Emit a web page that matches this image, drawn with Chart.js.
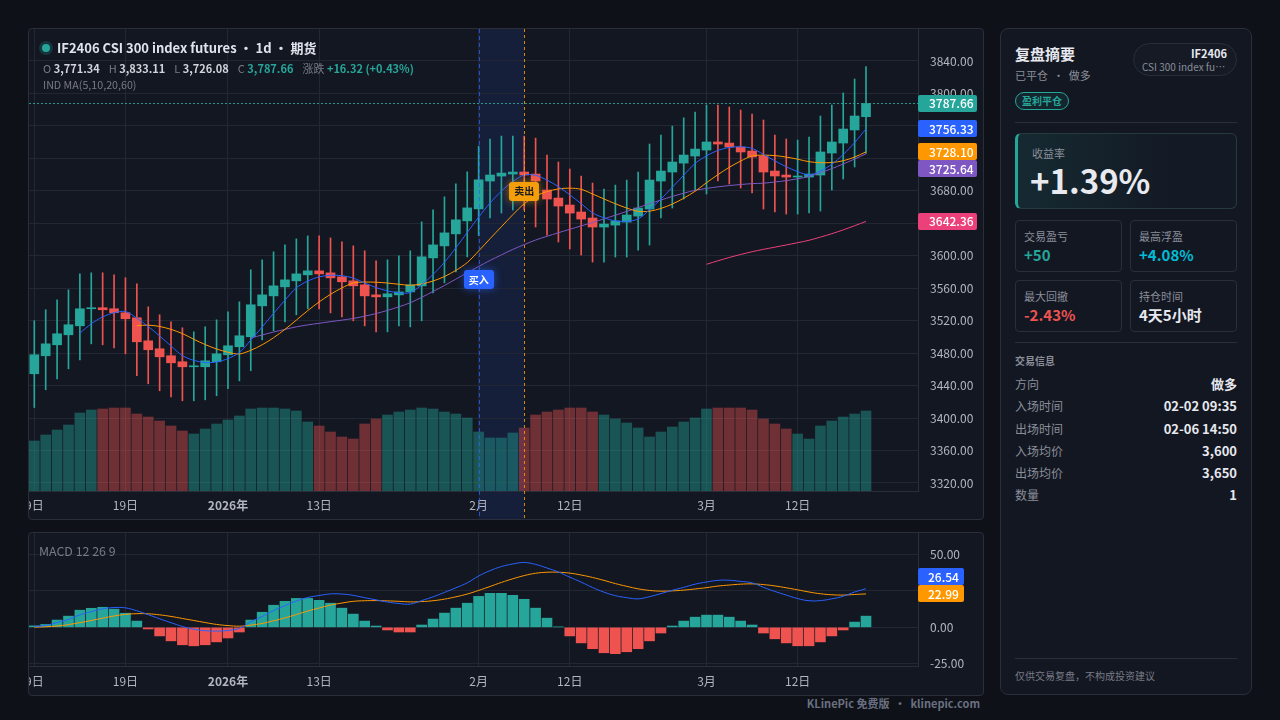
<!DOCTYPE html>
<html lang="zh-CN">
<head>
<meta charset="utf-8">
<title>IF2406 复盘</title>
<script src="https://cdn.jsdelivr.net/npm/chart.js@4.4.1/dist/chart.umd.min.js"></script>
<style>
  * { box-sizing: border-box; margin: 0; padding: 0; }
  body { width: 1280px; height: 720px; background: #0e1118; position: relative; overflow: hidden;
         font-family: 'Noto Sans CJK SC', 'Noto Sans', sans-serif; color: #d1d4dc; }
  .panel { position: absolute; background: #131722; border: 1px solid #2a2e39; border-radius: 4px; overflow: hidden; }
  #mainPanel { left: 28px; top: 28px; width: 956px; height: 492px; }
  #macdPanel { left: 28px; top: 532px; width: 956px; height: 164px; }
  canvas { position: absolute; left: 0; top: 0; }
  .abs { position: absolute; white-space: nowrap; }
  .dot { left: 13px; top: 15px; width: 8px; height: 8px; border-radius: 50%; background: #26a69a;
         box-shadow: 0 0 0 3px rgba(38,166,154,0.22); }
  .title { left: 28px; top: 10px; line-height: 18px; font-size: 13px; font-weight: 700; color: #e0e3eb; }
  .ohlc { left: 14px; top: 31px; line-height: 16px; font-size: 11px; color: #787b86; }
  .ohlc b { color: #d1d4dc; font-weight: 700; margin-right: 9px; }
  .ohlc .up { color: #26a69a; }
  .ind { left: 14px; top: 49px; line-height: 14px; font-size: 10.7px; color: #787b86; }
  .macdTitle { left: 10px; top: 10px; line-height: 16px; font-size: 12.4px; color: #787b86; }
  .footer { right: 300px; top: 695px; line-height: 16px; font-size: 11px; font-weight: 700; color: #6b7080; }

  #side { left: 1000px; top: 28px; width: 252px; height: 667px; border-radius: 8px; }
  .s-title { left: 14px; top: 15px; line-height: 20px; font-size: 15px; font-weight: 700; color: #e6e8ee; }
  .s-sub { left: 14px; top: 38px; line-height: 16px; font-size: 11px; color: #8a8e99; }
  .s-badge { left: 14px; top: 63px; width: 54px; height: 18px; border: 1px solid #26a69a; border-radius: 9px;
             background: rgba(38,166,154,0.10); color: #26a69a; font-size: 10px; font-weight: 700;
             line-height: 16px; text-align: center; }
  .s-sym { left: 132px; top: 14px; width: 104px; height: 33px; border: 1px solid #2a2e39; border-radius: 17px;
           background: #151a25; text-align: right; padding-right: 9px; }
  .sym-code { font-size: 11px; font-weight: 700; color: #e6e8ee; line-height: 13px; margin-top: 3px; }
  .sym-name { font-size: 10px; color: #8a8e99; line-height: 13px; width: 86px; margin-left: 8px;
              overflow: hidden; text-overflow: ellipsis; white-space: nowrap; }
  .s-div { left: 14px; width: 222px; height: 1px; background: #2a2e39; }
  .s-yield { left: 14px; top: 104px; width: 222px; height: 76px; border: 1px solid #253a3d; border-left: 3px solid #26a69a;
             border-radius: 6px; background: linear-gradient(90deg, rgba(38,166,154,0.13), rgba(38,166,154,0.02) 70%); }
  .y-lab { left: 14px; top: 11px; line-height: 16px; font-size: 11px; color: #8a8e99; }
  .y-val { left: 12px; top: 27px; line-height: 38px; font-size: 33px; font-weight: 700; color: #e8eaef; }
  .s-card { width: 107px; height: 52px; border: 1px solid #2a2e39; border-radius: 4px; }
  .c-lab { left: 8px; top: 7px; line-height: 16px; font-size: 11px; color: #8a8e99; }
  .c-val { left: 8px; top: 24px; line-height: 20px; font-size: 15px; font-weight: 700; color: #e6e8ee; }
  .s-sec { left: 14px; top: 325px; line-height: 14px; font-size: 10px; font-weight: 700; color: #8a8e99; }
  .row { left: 14px; width: 222px; height: 18px; line-height: 18px; }
  .row span { position: absolute; left: 0; font-size: 12px; color: #8a8e99; }
  .row b { position: absolute; right: 0; font-size: 13px; font-weight: 700; color: #e6e8ee; }
  .s-note { left: 14px; top: 640px; line-height: 14px; font-size: 10px; color: #787b86; }
</style>
</head>
<body>

<div id="mainPanel" class="panel">
  <canvas id="mainChart" width="954" height="490"></canvas>
  <div class="abs dot"></div>
  <div class="abs title">IF2406 CSI 300 index futures · 1d · 期货</div>
  <div class="abs ohlc">O <b>3,771.34</b>H <b>3,833.11</b>L <b>3,726.08</b>C <b class="up">3,787.66</b>涨跌 <b class="up">+16.32 (+0.43%)</b></div>
  <div class="abs ind">IND MA(5,10,20,60)</div>
</div>

<div id="macdPanel" class="panel">
  <canvas id="macdChart" width="954" height="162"></canvas>
  <div class="abs macdTitle">MACD 12 26 9</div>
</div>

<div class="abs footer">KLinePic 免费版 &nbsp;·&nbsp; klinepic.com</div>

<div id="side" class="panel">
  <div class="abs s-title">复盘摘要</div>
  <div class="abs s-sub">已平仓 &nbsp;·&nbsp; 做多</div>
  <div class="abs s-badge">盈利平仓</div>
  <div class="abs s-sym"><div class="sym-code">IF2406</div><div class="sym-name">CSI 300 index futures</div></div>
  <div class="abs s-div" style="top:93px"></div>
  <div class="abs s-yield"><div class="abs y-lab">收益率</div><div class="abs y-val">+1.39%</div></div>
  <div class="abs s-card" style="left:14px;top:191px"><div class="abs c-lab">交易盈亏</div><div class="abs c-val" style="color:#26a69a">+50</div></div>
  <div class="abs s-card" style="left:129px;top:191px"><div class="abs c-lab">最高浮盈</div><div class="abs c-val" style="color:#00bcd4">+4.08%</div></div>
  <div class="abs s-card" style="left:14px;top:251px"><div class="abs c-lab">最大回撤</div><div class="abs c-val" style="color:#ef5350">-2.43%</div></div>
  <div class="abs s-card" style="left:129px;top:251px"><div class="abs c-lab">持仓时间</div><div class="abs c-val">4天5小时</div></div>
  <div class="abs s-div" style="top:313px"></div>
  <div class="abs s-sec">交易信息</div>
  <div class="abs row" style="top:346px"><span>方向</span><b>做多</b></div>
  <div class="abs row" style="top:368px"><span>入场时间</span><b>02-02 09:35</b></div>
  <div class="abs row" style="top:391px"><span>出场时间</span><b>02-06 14:50</b></div>
  <div class="abs row" style="top:413px"><span>入场均价</span><b>3,600</b></div>
  <div class="abs row" style="top:435px"><span>出场均价</span><b>3,650</b></div>
  <div class="abs row" style="top:457px"><span>数量</span><b>1</b></div>
  <div class="abs s-div" style="top:629px"></div>
  <div class="abs s-note">仅供交易复盘，不构成投资建议</div>
</div>

<script>
// ---------------- data ----------------
const dates = [
  '2025-12-09','2025-12-10','2025-12-11','2025-12-12','2025-12-15','2025-12-16','2025-12-17','2025-12-18','2025-12-19',
  '2025-12-22','2025-12-23','2025-12-24','2025-12-25','2025-12-26','2025-12-29','2025-12-30','2025-12-31',
  '2026-01-01','2026-01-02','2026-01-05','2026-01-06','2026-01-07','2026-01-08','2026-01-09','2026-01-12','2026-01-13',
  '2026-01-14','2026-01-15','2026-01-16','2026-01-19','2026-01-20','2026-01-21','2026-01-22','2026-01-23',
  '2026-01-26','2026-01-27','2026-01-28','2026-01-29','2026-01-30',
  '2026-02-02','2026-02-03','2026-02-04','2026-02-05','2026-02-06','2026-02-09','2026-02-10','2026-02-11','2026-02-12',
  '2026-02-13','2026-02-16','2026-02-17','2026-02-18','2026-02-19','2026-02-20','2026-02-23','2026-02-24','2026-02-25',
  '2026-02-26','2026-02-27',
  '2026-03-02','2026-03-03','2026-03-04','2026-03-05','2026-03-06','2026-03-09','2026-03-10','2026-03-11','2026-03-12',
  '2026-03-13','2026-03-16','2026-03-17','2026-03-18','2026-03-19','2026-03-20'
];

const opens = [
  3454.6,3476.8,3490.3,3502.6,3513.7,3534.7,3536.0,3534.7,3529.8,3523.6,
  3495.2,3485.4,3476.8,3469.4,3463.2,3463.2,3469.4,3478.0,3487.9,3500.2,
  3538.3,3550.6,3561.7,3569.1,3576.5,3581.4,3578.9,3574.0,3569.1,3564.2,
  3551.8,3549.4,3551.8,3555.5,3562.9,3597.4,3612.2,3627.0,3643.0,3657.8,
  3692.1,3698.2,3700.7,3703.2,3700.7,3681.0,3671.1,3662.5,3653.9,3646.5,
  3635.4,3637.8,3641.5,3648.9,3657.6,3692.1,3703.2,3714.2,3722.9,3730.3,
  3740.2,3738.9,3734.0,3729.1,3722.9,3704.4,3699.5,3697.0,3697.0,3699.5,
  3726.6,3738.9,3755.0,3771.34
];
const highs = [
  3520.0,3533.5,3545.8,3558.0,3577.8,3579.0,3579.0,3576.6,3572.9,3565.5,
  3537.1,3527.3,3518.7,3511.3,3506.3,3512.5,3521.1,3531.0,3543.3,3582.7,
  3595.0,3604.8,3613.4,3620.8,3624.5,3624.5,3622.0,3617.1,3612.2,3606.1,
  3593.7,3595.0,3599.9,3606.1,3641.8,3656.6,3672.6,3688.6,3703.4,3735.0,
  3743.8,3747.5,3747.5,3747.5,3745.0,3724.1,3715.5,3706.9,3698.2,3689.6,
  3682.2,3687.1,3693.3,3703.2,3737.7,3748.8,3759.8,3770.0,3777.1,3785.8,
  3785.8,3783.3,3779.6,3774.7,3767.3,3748.8,3743.9,3742.6,3746.3,3772.2,
  3785.8,3800.6,3817.8,3833.11
];
const lows = [
  3413.0,3434.9,3448.4,3460.7,3471.8,3491.5,3490.3,3486.6,3479.2,3452.1,
  3442.3,3433.6,3426.2,3421.3,3421.3,3422.5,3427.5,3436.1,3445.9,3458.3,
  3496.4,3507.5,3518.6,3527.2,3534.6,3534.6,3529.6,3524.7,3519.8,3513.6,
  3506.2,3506.2,3513.6,3512.4,3519.8,3554.3,3566.6,3580.2,3598.7,3625.0,
  3646.5,3652.6,3656.3,3656.3,3635.4,3625.5,3616.9,3608.3,3600.9,3592.2,
  3592.2,3598.4,3598.4,3607.0,3613.2,3646.5,3658.8,3669.9,3681.0,3676.1,
  3692.1,3688.4,3683.5,3677.3,3657.6,3653.9,3651.4,3651.4,3652.7,3655.1,
  3681.0,3694.6,3709.4,3726.08
];
const closes = [
  3478.0,3491.5,3503.9,3515.0,3534.7,3536.0,3533.5,3529.8,3522.4,3494.0,
  3484.2,3475.5,3468.1,3463.2,3464.4,3470.6,3479.2,3489.1,3501.4,3539.6,
  3551.8,3562.9,3570.3,3577.7,3581.4,3577.7,3572.8,3567.9,3562.9,3550.6,
  3549.4,3553.1,3555.5,3564.2,3598.7,3613.4,3628.2,3644.3,3659.0,3693.6,
  3699.5,3701.9,3703.2,3699.5,3692.1,3669.9,3661.3,3652.6,3645.2,3635.4,
  3639.1,3642.8,3650.2,3658.8,3693.3,3704.4,3715.5,3724.1,3731.5,3740.2,
  3737.7,3734.0,3727.9,3721.7,3703.2,3698.3,3697.0,3698.3,3700.7,3727.9,
  3740.2,3756.2,3772.2,3787.66
];

// 成交量（千手）与量柱方向
const volumes = [
  50,56,61,66,78,81,82,83,83,77, 74,70,65,60,57,62,67,71,75,82,
  83,83,82,80,69,65,59,54,52,67, 72,76,79,81,83,82,79,77,73,59,
  53,53,58,63,76,79,81,83,83,79, 76,72,68,63,54,59,64,69,73,82,
  83,83,83,81,72,67,62,57,52,65, 70,74,77,80
];
const volumeUp = [
  1,1,1,1,1,1,0,0,0,0, 0,0,0,0,1,1,1,1,1,1,
  1,1,1,1,1,0,0,0,0,0, 0,1,1,1,1,1,1,1,1,1,
  1,1,1,0,0,0,0,0,0,0, 1,1,1,1,1,1,1,1,1,1,
  0,0,0,0,0,0,0,1,1,1, 1,1,1,1
];

// 均线，各自从第 period 根开始
const ma5 = [
  3504.6,3516.2,3524.6,3529.8,3531.3,3523.1,3512.8,3501.2,3488.8,3477.0,
  3471.1,3468.4,3469.1,3473.3,3480.9,3496.0,3512.2,3529.0,3545.2,3560.5,
  3568.8,3574.0,3576.0,3575.5,3572.5,3566.4,3560.7,3556.8,3554.3,3554.6,
  3564.2,3577.0,3592.0,3609.8,3628.7,3647.7,3664.9,3679.7,3691.4,3699.5,
  3699.2,3693.3,3685.2,3675.1,3664.2,3652.9,3646.7,3643.0,3642.5,3645.3,
  3656.8,3669.9,3684.4,3699.2,3713.8,3723.1,3729.8,3733.5,3734.3,3732.3,
  3724.9,3717.0,3709.6,3703.7,3699.5,3704.4,3712.8,3724.7,3739.4,3756.33
];
const ma10 = [
  3513.9,3514.5,3512.9,3509.3,3504.1,3497.1,3490.6,3485.1,3481.1,3479.0,
  3483.5,3490.3,3499.0,3509.3,3520.7,3532.4,3543.1,3552.5,3560.4,3566.5,
  3567.6,3567.4,3566.4,3564.9,3563.6,3565.3,3568.9,3574.4,3582.0,3591.6,
  3605.9,3621.0,3635.8,3650.6,3664.1,3673.5,3679.1,3682.4,3683.3,3681.9,
  3676.1,3670.0,3664.1,3658.8,3654.7,3654.9,3658.3,3663.7,3670.9,3679.5,
  3690.0,3699.9,3709.0,3716.7,3723.0,3724.0,3723.4,3721.6,3719.0,3715.9,
  3714.7,3714.9,3717.1,3721.6,3728.10
];
const ma20 = [
  3498.7,3502.4,3506.0,3509.3,3512.4,3514.8,3516.8,3518.8,3520.7,3522.7,
  3525.6,3528.8,3532.7,3537.1,3542.1,3548.8,3556.0,3563.4,3571.2,3579.1,
  3586.8,3594.2,3601.1,3607.8,3613.8,3619.4,3624.0,3628.4,3632.6,3636.8,
  3641.0,3645.5,3650.0,3654.7,3659.4,3664.2,3668.7,3673.1,3677.1,3680.7,
  3683.0,3684.9,3686.5,3687.8,3688.9,3689.4,3690.9,3692.6,3694.9,3697.7,
  3702.3,3707.4,3713.1,3719.2,3725.64
];
const ma60 = [
  3589.5,3593.8,3597.9,3601.6,3605.0,3607.9,3610.6,3613.3,3616.1,3619.1,
  3623.0,3627.2,3631.9,3637.0,3642.36
];

// MACD(12,26,9)
const dif = [
  0.6,1.3,3.3,5.4,8.6,10.8,12.7,13.6,13.4,11.4,
  8.7,5.9,3.2,0.6,-1.3,-2.3,-2.6,-2.1,-0.7,3.8,
  7.5,11.5,14.9,18.1,20.5,21.9,23.0,22.9,22.0,20.4,
  18.9,17.4,16.4,16.0,18.4,21.0,24.0,27.2,30.6,35.3,
  39.0,41.8,43.6,44.6,43.3,40.8,38.1,34.5,31.1,27.4,
  24.2,21.8,20.4,19.6,21.1,23.2,25.5,27.5,29.7,31.2,
  32.3,32.4,31.6,30.6,27.5,24.7,22.2,19.8,18.3,18.4,
  19.6,21.4,24.3,26.54
];
const dea = [
  0.1,0.4,0.9,1.9,3.2,4.7,6.3,7.8,8.9,9.4,
  9.3,8.6,7.5,6.1,4.7,3.3,2.0,1.2,0.8,1.5,
  2.7,4.5,6.5,8.8,11.2,13.3,15.3,16.7,17.9,18.3,
  18.4,18.2,17.9,17.5,17.7,18.3,19.4,21.0,22.9,25.4,
  28.1,30.9,33.4,35.6,37.2,37.9,37.9,37.3,36.0,34.3,
  32.3,30.1,28.2,26.5,25.4,24.9,25.1,25.6,26.4,27.3,
  28.4,29.1,29.7,29.9,29.4,28.5,27.2,25.8,24.3,23.1,
  22.4,22.2,22.6,22.99
];
const macdHist = [
  1,2,5,7.7,11.8,13.1,13.8,12.5,9.7,4.3,
  -1.1,-5.9,-9.3,-12,-12.7,-12,-10,-7.3,-3.2,5,
  10.4,15.2,17.9,19.9,19.9,18.6,16.6,13.2,9.1,4.3,
  0.9,-1.8,-3.2,-3.2,1.6,5.7,9.8,13.2,16.6,21.3,
  23.4,23.4,22,19.3,13.2,6.3,0.3,-5.9,-10.7,-14.7,
  -17.5,-18.1,-16.8,-14.7,-9.3,-3.9,0.9,4.3,7,8.4,
  8.4,7,4.3,1.6,-3.9,-7.9,-10.7,-12.7,-12.7,-10,
  -5.9,-1.8,3.6,7.7
];

// 轴刻度
const tickDates = ['2025-12-09','2025-12-19','2026-01-01','2026-01-13','2026-02-02','2026-02-12','2026-03-02','2026-03-12'];
const tickText  = ['9日','19日','2026年','13日','2月','12日','3月','12日'];
const priceTicks = [3320,3360,3400,3440,3480,3520,3560,3600,3640,3680,3720,3760,3800,3840];
const macdTicks = [-25, 0, 25, 50];

// 交易
const entryDate = '2026-02-02', exitDate = '2026-02-06';
const entryPrice = 3600, exitPrice = 3650;

// ---------------- chart ----------------
const UP = '#26a69a', DOWN = '#ef5350';
const GRID = '#232734', AXIS = '#2a2e39';
const X_MIN = -0.465, X_MAX = 77.564;

Chart.defaults.font.family = "'Noto Sans CJK SC', 'Noto Sans', sans-serif";
Chart.defaults.color = '#b2b5be';

const tickIdx = tickDates.map(d => dates.indexOf(d));
const yearIdx = tickIdx[tickText.indexOf('2026年')];
const entryIdx = dates.indexOf(entryDate);
const exitIdx = dates.indexOf(exitDate);
const last = arr => arr[arr.length - 1];

function xAxis(height, pad) {
  return {
    type: 'linear', min: X_MIN, max: X_MAX, offset: false,
    afterBuildTicks: s => { s.ticks = tickIdx.map(v => ({ value: v })); },
    afterFit: s => { s.height = height; s.paddingLeft = 0; s.paddingRight = 0; },
    ticks: {
      autoSkip: false, maxRotation: 0, padding: pad, color: '#b2b5be',
      font: c => ({ size: 12, weight: c.tick && c.tick.value === yearIdx ? 'bold' : 'normal' }),
      callback: v => tickText[tickIdx.indexOf(v)]
    },
    grid: { color: GRID, drawTicks: false, offset: false },
    border: { color: AXIS }
  };
}

function yAxis(min, max, ticks) {
  return {
    position: 'right', min: min, max: max,
    afterBuildTicks: s => { s.ticks = ticks.map(v => ({ value: v })); },
    afterFit: s => { s.width = 65; s.paddingTop = 0; s.paddingBottom = 0; },
    ticks: { padding: 12, color: '#b2b5be', font: { size: 12 }, callback: v => v.toFixed(2) },
    grid: { color: GRID, drawTicks: false },
    border: { color: AXIS }
  };
}

function lineSet(label, values, start, color, order) {
  return {
    type: 'line', label: label, order: order,
    data: values.map((v, i) => ({ x: i + start, y: v })),
    borderColor: color, borderWidth: 1, pointRadius: 0, tension: 0.3
  };
}

// right-axis value tags, pushed apart when they collide
function drawTags(chart, tags, w) {
  const ctx = chart.ctx, ys = chart.scales.y, x = chart.chartArea.right, h = 17;
  const placed = [];
  tags.forEach(t => {
    let y = ys.getPixelForValue(t.value);
    let hit = placed.find(p => Math.abs(p.y - y) < h);
    while (hit) {
      y = t.value < hit.value ? hit.y + h : hit.y - h;
      hit = placed.find(p => Math.abs(p.y - y) < h - 0.5);
    }
    placed.push({ y: y, value: t.value });
    ctx.save();
    ctx.fillStyle = t.color;
    ctx.beginPath();
    ctx.roundRect(x, Math.round(y - h / 2), w, h, 2);
    ctx.fill();
    ctx.fillStyle = '#ffffff';
    ctx.font = "500 12px 'Noto Sans CJK SC', 'Noto Sans', sans-serif";
    ctx.textBaseline = 'middle';
    ctx.textAlign = 'left';
    ctx.fillText(t.value.toFixed(2), x + (w > 50 ? 11 : 10), Math.round(y) + 0.5);
    ctx.restore();
  });
}

function badge(ctx, cx, cy, text, bg, fg, glow) {
  ctx.save();
  ctx.font = "bold 10px 'Noto Sans CJK SC', sans-serif";
  const w = ctx.measureText(text).width + 10, h = 19;
  ctx.shadowColor = glow;
  ctx.shadowBlur = 8;
  ctx.fillStyle = bg;
  ctx.beginPath();
  ctx.roundRect(Math.round(cx - w / 2), Math.round(cy - h / 2), w, h, 3);
  ctx.fill();
  ctx.shadowBlur = 0;
  ctx.fillStyle = fg;
  ctx.textAlign = 'center';
  ctx.textBaseline = 'middle';
  ctx.fillText(text, cx, cy + 0.5);
  ctx.restore();
}

const tradePlugin = {
  id: 'trade',
  beforeDraw(chart) {
    const xs = chart.scales.x, ctx = chart.ctx;
    const x0 = xs.getPixelForValue(entryIdx), x1 = xs.getPixelForValue(exitIdx);
    ctx.save();
    ctx.fillStyle = 'rgba(41,98,255,0.11)';
    ctx.fillRect(x0, 0, x1 - x0, chart.height);
    ctx.restore();
  },
  afterDatasetsDraw(chart) {
    const xs = chart.scales.x, ys = chart.scales.y, ctx = chart.ctx, a = chart.chartArea;
    const x0 = Math.round(xs.getPixelForValue(entryIdx)) + 0.5;
    const x1 = Math.round(xs.getPixelForValue(exitIdx)) + 0.5;
    ctx.save();
    ctx.lineWidth = 1;
    ctx.setLineDash([4, 3]);
    ctx.strokeStyle = 'rgba(41,98,255,0.75)';
    ctx.beginPath(); ctx.moveTo(x0, 0); ctx.lineTo(x0, chart.height); ctx.stroke();
    ctx.setLineDash([3, 3]);
    ctx.strokeStyle = 'rgba(255,152,0,0.85)';
    ctx.beginPath(); ctx.moveTo(x1, 0); ctx.lineTo(x1, chart.height); ctx.stroke();
    // last price line
    const yl = Math.round(ys.getPixelForValue(last(closes))) + 0.5;
    ctx.setLineDash([2, 2]);
    ctx.strokeStyle = 'rgba(38,166,154,0.9)';
    ctx.beginPath(); ctx.moveTo(a.left, yl); ctx.lineTo(a.right, yl); ctx.stroke();
    ctx.restore();
    badge(ctx, xs.getPixelForValue(entryIdx), ys.getPixelForValue(entryPrice) + 24, '买入', '#2962ff', '#ffffff', 'rgba(41,98,255,0.6)');
    badge(ctx, xs.getPixelForValue(exitIdx), ys.getPixelForValue(exitPrice) - 24, '卖出', '#f59e0b', '#1b1b1b', 'rgba(245,158,11,0.6)');
  },
  afterDraw(chart) {
    drawTags(chart, [
      { value: last(closes), color: UP },
      { value: last(ma5), color: '#2962ff' },
      { value: last(ma10), color: '#ff9800' },
      { value: last(ma20), color: '#7e57c2' },
      { value: last(ma60), color: '#ec407a' }
    ], 59);
  }
};

new Chart(document.getElementById('mainChart'), {
  type: 'bar',
  data: {
    datasets: [
      lineSet('MA5', ma5, 4, '#2962ff', 1),
      lineSet('MA10', ma10, 9, '#ff9800', 2),
      lineSet('MA20', ma20, 19, '#7e57c2', 3),
      lineSet('MA60', ma60, 59, '#ec407a', 3),
      {
        label: 'body', order: 5, grouped: false, barThickness: 9, minBarLength: 1,
        data: opens.map((o, i) => ({ x: i, y: [o, closes[i]] })),
        backgroundColor: c => closes[c.dataIndex] >= opens[c.dataIndex] ? UP : DOWN
      },
      {
        label: 'wick', order: 6, grouped: false, barThickness: 1,
        data: lows.map((l, i) => ({ x: i, y: [l, highs[i]] })),
        backgroundColor: c => closes[c.dataIndex] >= opens[c.dataIndex] ? UP : DOWN
      },
      {
        label: 'volume', order: 10, grouped: false, barThickness: 10, yAxisID: 'yv',
        data: volumes.map((v, i) => ({ x: i, y: v })),
        backgroundColor: c => volumeUp[c.dataIndex] ? 'rgba(38,166,154,0.43)' : 'rgba(239,83,80,0.42)'
      }
    ]
  },
  options: {
    responsive: false, animation: false, devicePixelRatio: 1, events: [],
    layout: { padding: 0 },
    plugins: { legend: { display: false }, tooltip: { enabled: false } },
    scales: {
      x: xAxis(28, 7),
      y: yAxis(3310.14, 3879.43, priceTicks),
      yv: { display: false, min: 0, max: 462 }
    }
  },
  plugins: [tradePlugin]
});

// --------------- MACD ------------------
new Chart(document.getElementById('macdChart'), {
  type: 'bar',
  data: {
    datasets: [
      { type: 'line', label: 'DIF', order: 1, data: dif.map((v, i) => ({ x: i, y: v })),
        borderColor: '#2962ff', borderWidth: 1, pointRadius: 0, tension: 0.4 },
      { type: 'line', label: 'DEA', order: 2, data: dea.map((v, i) => ({ x: i, y: v })),
        borderColor: '#ff9800', borderWidth: 1, pointRadius: 0, tension: 0.4 },
      { label: 'MACD', order: 3, grouped: false, barThickness: 10,
        data: macdHist.map((v, i) => ({ x: i, y: v })),
        backgroundColor: c => macdHist[c.dataIndex] >= 0 ? UP : DOWN }
    ]
  },
  options: {
    responsive: false, animation: false, devicePixelRatio: 1, events: [],
    layout: { padding: 0 },
    plugins: { legend: { display: false }, tooltip: { enabled: false } },
    scales: {
      x: xAxis(29, 8),
      y: yAxis(-26.6, 64.9, macdTicks)
    }
  },
  plugins: [{
    id: 'macdTags',
    afterDraw(chart) {
      drawTags(chart, [
        { value: last(dea), color: '#ff9800' },
        { value: last(dif), color: '#2962ff' }
      ], 46);
    }
  }]
});
</script>
</body>
</html>
